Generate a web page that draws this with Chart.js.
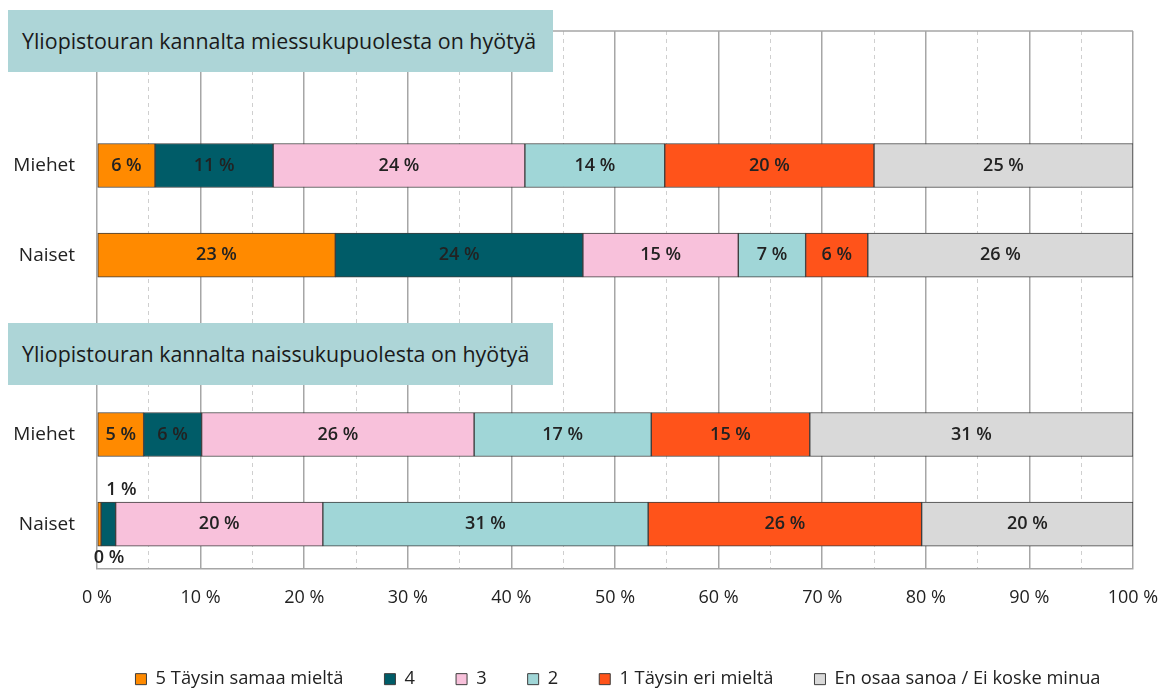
<!DOCTYPE html>
<html><head><meta charset="utf-8">
<script src="https://cdn.jsdelivr.net/npm/chart.js@4.4.0/dist/chart.umd.min.js"></script>
<style>
html,body{margin:0;padding:0;background:#fff;}
#wrap{position:relative;width:1162px;height:688px;overflow:hidden;}
canvas{position:absolute;left:0;top:0;}
.tbox{position:absolute;left:8px;width:545px;height:62px;background:#ADD5D7;font-family:'Open Sans',sans-serif;font-size:21.4px;color:#1a1a1a;line-height:62px;padding-left:14px;box-sizing:border-box;white-space:nowrap;}
</style></head>
<body><div id="wrap"><canvas id="c" width="1162" height="688"></canvas>
<div class="tbox" id="t1" style="top:10px"></div><div class="tbox" id="t2" style="top:323px"></div></div>
<script>
const sectionTitles = ['Yliopistouran kannalta miessukupuolesta on hyötyä', 'Yliopistouran kannalta naissukupuolesta on hyötyä'];
const categories = ['', 'Miehet', 'Naiset', '', 'Miehet', 'Naiset'];
const seriesNames = ['5 Täysin samaa mieltä', '4', '3', '2', '1 Täysin eri mieltä', 'En osaa sanoa / Ei koske minua'];
const s5 = [null, 5.6, 23.0, null, 4.5, 0.4];
const s4 = [null, 11.4, 23.9, null, 5.6, 1.4];
const s3 = [null, 24.3, 15.0, null, 26.3, 20.0];
const s2 = [null, 13.5, 6.5, null, 17.1, 31.4];
const s1 = [null, 20.2, 6.0, null, 15.3, 26.4];
const sEos = [null, 25.0, 25.6, null, 31.2, 20.4];
const xMin = 0, xMax = 100, xStep = 5, xLabelStep = 10;

document.getElementById('t1').textContent = sectionTitles[0];
document.getElementById('t2').textContent = sectionTitles[1];

const seriesData = [s5, s4, s3, s2, s1, sEos];
const colors = ['#FF8A00', '#005C68', '#F8C1DB', '#A0D6D7', '#FF531A', '#D9D9D9'];

const framePlugin = {
  id: 'frame',
  afterLayout(chart) {
    // shift the legend row to sit under the plot like the original
    if (chart.legend) { chart.legend.left = 90; chart.legend.right = 1146; }
  },
  beforeDatasetsDraw(chart) {
    const {ctx, chartArea: a} = chart;
    ctx.save();
    ctx.strokeStyle = '#a6a6a6';
    ctx.lineWidth = 1.5;
    ctx.beginPath();
    ctx.moveTo(a.left, a.top);
    ctx.lineTo(a.right, a.top);
    ctx.stroke();
    ctx.restore();
  }
};

const labelPlugin = {
  id: 'barLabels',
  afterDatasetsDraw(chart) {
    const ctx = chart.ctx;
    ctx.save();
    ctx.font = '600 18px "Open Sans"';
    ctx.fillStyle = '#222';
    ctx.textBaseline = 'middle';
    chart.data.datasets.forEach((ds, i) => {
      const meta = chart.getDatasetMeta(i);
      meta.data.forEach((el, j) => {
        const v = ds.data[j];
        if (v == null) return;
        const txt = Math.round(v) + ' %';
        const w = Math.abs(el.x - el.base);
        const left = Math.min(el.x, el.base);
        if (w > ctx.measureText(txt).width + 4) {
          ctx.textAlign = 'center';
          ctx.fillText(txt, (el.x + el.base) / 2, el.y);
        } else {
          ctx.textAlign = 'left';
          const h = el.height;
          if (v < 1) ctx.fillText(txt, left - 4, el.y + h / 2 + 12);
          else ctx.fillText(txt, left + 5, el.y - h / 2 - 12);
        }
      });
    });
    ctx.restore();
  }
};

new Chart(document.getElementById('c'), {
  type: 'bar',
  data: {
    labels: categories,
    datasets: seriesNames.map((n, i) => ({
      label: n,
      data: seriesData[i],
      backgroundColor: colors[i],
      borderColor: '#3d3d3d',
      borderWidth: 1,
      borderSkipped: false,
      barThickness: 44
    }))
  },
  options: {
    indexAxis: 'y',
    responsive: false,
    animation: false,
    layout: {padding: {left: 0, right: 29, top: 31, bottom: 0}},
    scales: {
      x: {
        stacked: true, min: xMin, max: xMax,
        ticks: {
          stepSize: xStep, autoSkip: false, maxRotation: 0, padding: 18,
          color: '#222', font: {family: 'Open Sans', size: 18},
          callback: (v) => (v % xLabelStep === 0 ? v + ' %' : '')
        },
        grid: {
          drawTicks: false,
          color: (c) => (c.tick && c.tick.value % xLabelStep !== 0 ? '#cfcfcf' : '#a6a6a6'),
          lineWidth: (c) => (c.tick && c.tick.value % xLabelStep !== 0 ? 1 : 1.5)
        },
        border: {
          display: true, color: '#a6a6a6', width: 1.5,
          dash: (c) => (c.tick && c.tick.value % xLabelStep !== 0 ? [4, 4] : [])
        },
        afterFit: (s) => { s.height = 60; s.paddingLeft = 0; s.paddingRight = 0; }
      },
      y: {
        stacked: true,
        grid: {display: false, drawTicks: false},
        border: {display: false},
        ticks: {padding: 22, color: '#222', font: {family: 'Open Sans', size: 19}},
        afterFit: (s) => { s.width = 97; s.paddingTop = 0; s.paddingBottom = 0; }
      }
    },
    plugins: {
      legend: {
        position: 'bottom', maxHeight: 59,
        labels: {boxWidth: 11, boxHeight: 11, padding: 41, color: '#222', font: {family: 'Open Sans', size: 18.3}}
      },
      tooltip: {enabled: false}
    }
  },
  plugins: [framePlugin, labelPlugin]
});
</script>
</body></html>
